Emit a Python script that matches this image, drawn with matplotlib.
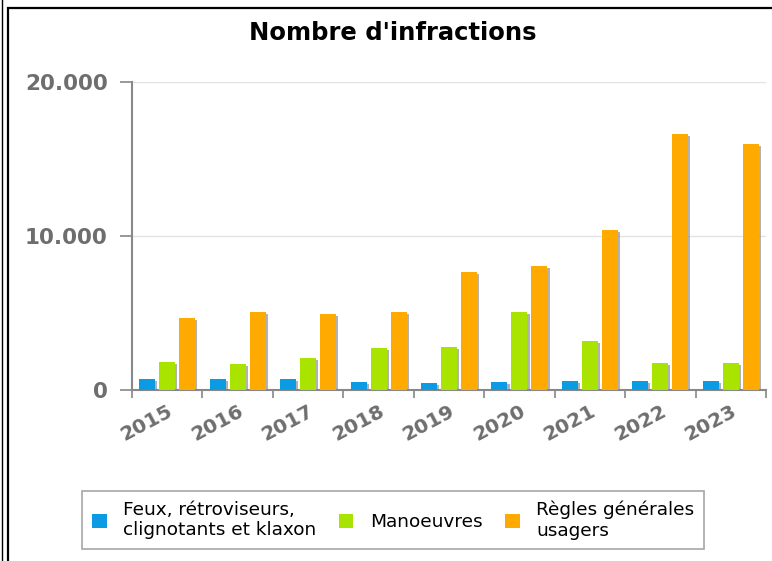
import numpy as np
import matplotlib.pyplot as plt
import matplotlib.patheffects as pe
from matplotlib.patches import Rectangle, Patch
from matplotlib.lines import Line2D
from matplotlib.ticker import FuncFormatter

years = ["2015", "2016", "2017", "2018", "2019", "2020", "2021", "2022", "2023"]
feux = [700, 700, 700, 540, 480, 540, 580, 580, 580]
manoeuvres = [1840, 1710, 2100, 2750, 2780, 5080, 3180, 1780, 1780]
regles = [4700, 5080, 4960, 5080, 7680, 8050, 10390, 16600, 15950]

series = [feux, manoeuvres, regles]
labels = ["Feux, rétroviseurs,\nclignotants et klaxon", "Manoeuvres",
          "Règles générales\nusagers"]
colors = ["#0a9be2", "#a8e400", "#ffaa00"]

W, H = 772, 561
fig = plt.figure(figsize=(W / 100, H / 100), dpi=100)

# outer frame of the widget
fig.add_artist(Rectangle((8 / W, -0.1), 2, (1 - 8 / H) + 0.1, transform=fig.transFigure,
                         fill=False, edgecolor="black", linewidth=1.6))
fig.add_artist(Line2D([1.5 / W, 1.5 / W], [0, 1], transform=fig.transFigure,
                      color="black", linewidth=1))

ax = fig.add_axes([132 / W, 1 - 390 / H, 634 / W, (390 - 82) / H])

x = np.arange(len(years))
width = 0.227
step = 0.284
shadow = [pe.SimplePatchShadow(offset=(1.5, -1.5), shadow_rgbFace="#808080", alpha=0.6),
          pe.Normal()]
for i, (vals, col) in enumerate(zip(series, colors)):
    bars = ax.bar(x + (i - 1) * step, vals, width, color=col, zorder=3)
    for b in bars:
        b.set_path_effects(shadow)

ax.set_xlim(-0.5, len(years) - 0.5)
ax.set_ylim(0, 20000)
ax.set_yticks([0, 10000, 20000])
ax.yaxis.set_major_formatter(FuncFormatter(lambda v, p: f"{int(v):,}".replace(",", ".")))
ax.grid(axis="y", color="#e3e3e3", linewidth=1, zorder=0)

ax.set_xticks(x)
ax.set_xticklabels(years, rotation=28, ha="right", rotation_mode="anchor")
ax.set_xticks(np.arange(-0.5, len(years)), minor=True)
ax.tick_params(axis="x", which="major", length=0, pad=8)
ax.tick_params(axis="x", which="minor", length=6, width=1.2, color="#888888", direction="out")
ax.tick_params(axis="y", length=8.5, width=1.2, color="#888888", pad=9)

for t in ax.get_xticklabels() + ax.get_yticklabels():
    t.set_fontweight("bold")
    t.set_fontsize(14.5)
    t.set_color("#6e6e6e")
for t in ax.get_yticklabels():
    t.set_fontsize(15.5)

for s in ["top", "right"]:
    ax.spines[s].set_visible(False)
for s in ["left", "bottom"]:
    ax.spines[s].set_color("#888888")
    ax.spines[s].set_linewidth(1.5)

fig.text(393 / W, 1 - 33 / H, "Nombre d'infractions", ha="center", va="center",
         fontsize=17.5, fontweight="bold")

handles = [Patch(facecolor=c, edgecolor="none") for c in colors]
leg = fig.legend(handles, labels, loc="center", bbox_to_anchor=(393 / W, 1 - 520 / H), ncol=3,
                 frameon=True, fancybox=False, handlelength=0.8,
                 handleheight=0.8, handletextpad=0.9, columnspacing=1.2,
                 borderpad=0.5, labelspacing=0.3, prop={"size": 13.3})
leg.get_frame().set_edgecolor("#909090")
leg.get_frame().set_linewidth(1.2)

fig.savefig("out.png", dpi=100)
